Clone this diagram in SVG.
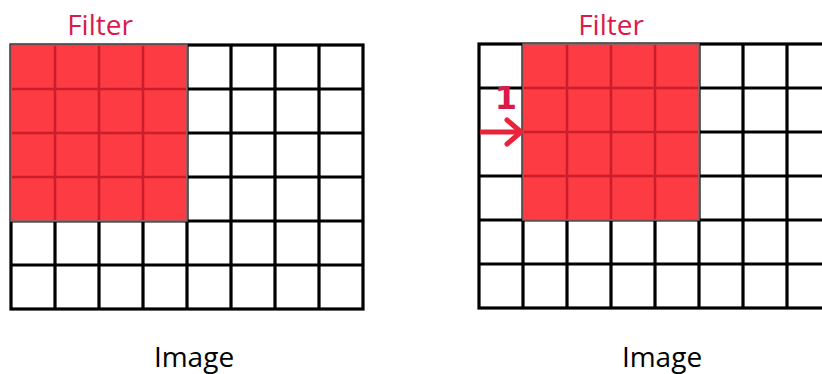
<svg xmlns="http://www.w3.org/2000/svg" width="822" height="374" viewBox="0 0 822 374">
<style>
.grid{fill:#fff;stroke:#000;stroke-width:3.2}
.gl{stroke:#000;stroke-width:3.2}
.filt{fill:#fd3b42;stroke:#7a6a6c;stroke-width:1.5}
.fl{stroke:#cc1d2a;stroke-width:2.5}
.lbl{font-family:"Open Sans","Liberation Sans",sans-serif;font-size:28px;text-anchor:middle}
.red{fill:#d81b4b}
</style>
<defs>
<marker id="ah" viewBox="0 0 20 30" refX="17" refY="15" markerWidth="20" markerHeight="30" markerUnits="userSpaceOnUse" orient="auto">
<path d="M3,3 L17,15 L3,27" fill="none" stroke="#e8243c" stroke-width="5" stroke-linecap="round" stroke-linejoin="round"/>
</marker>
</defs>
<rect width="822" height="374" fill="#fff"/>
<g id="left-image">
<rect class="grid" x="11" y="45" width="352" height="264"/>
<path class="gl" d="M55,45V309M99,45V309M143,45V309M187,45V309M231,45V309M275,45V309M319,45V309M11,89H363M11,133H363M11,177H363M11,221H363M11,265H363"/>
</g>
<g id="left-filter">
<rect class="filt" x="11" y="45" width="176" height="176"/>
<path class="fl" d="M55,46V220M99,46V220M143,46V220M12,89H186M12,133H186M12,177H186"/>
</g>
<g id="right-image">
<rect class="grid" x="479" y="44" width="352" height="264"/>
<path class="gl" d="M523,44V308M567,44V308M611,44V308M655,44V308M699,44V308M743,44V308M787,44V308M479,88H831M479,132H831M479,176H831M479,220H831M479,264H831"/>
</g>
<g id="right-filter">
<rect class="filt" x="523" y="44" width="176" height="176"/>
<path class="fl" d="M567,45V219M611,45V219M655,45V219M524,88H698M524,132H698M524,176H698"/>
</g>
<g id="connectors">
<line x1="480" y1="132" x2="521" y2="132" stroke="#e8243c" stroke-width="5" marker-end="url(#ah)"/>
</g>
<g id="labels">
<text class="lbl red" x="100" y="35">Filter</text>
<text class="lbl red" x="611" y="35">Filter</text>
<text class="lbl" x="194" y="367" fill="#000">Image</text>
<text class="lbl" x="662" y="367" fill="#000">Image</text>
<text x="506" y="109" text-anchor="middle" font-family="'DejaVu Sans',sans-serif" font-weight="bold" font-size="32" fill="#d81b4b">1</text>
</g>
</svg>
